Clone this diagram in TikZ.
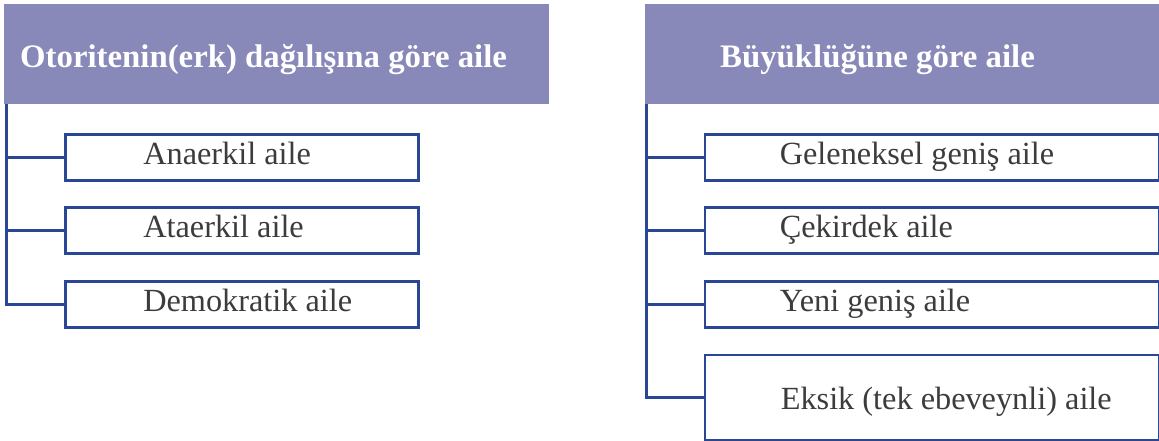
\documentclass[tikz,border=0pt]{standalone}
\usepackage{fontspec}
\setmainfont{Liberation Serif}
\definecolor{hdrfill}{RGB}{136,136,185}
\definecolor{linecol}{RGB}{42,70,150}
\definecolor{txtcol}{RGB}{60,60,60}
\tikzset{
  hdr/.style={fill=hdrfill, draw=none, anchor=north west, inner sep=0pt, text=white,
              font=\fontsize{32.8}{36}\selectfont\bfseries, text height=33pt, text depth=7pt},
  itembox/.style={draw=linecol, line width=2.6pt, fill=white, anchor=north west, inner sep=0pt,
              text=txtcol, font=\fontsize{32.3}{36}\selectfont, text height=21pt, text depth=7pt},
  conn/.style={draw=linecol, line width=2.6pt}
}
\begin{document}
\begin{tikzpicture}[x=1pt,y=-1pt]
\useasboundingbox (0,0) rectangle (1159,440);
% headers
\node[hdr, minimum width=545pt, minimum height=100pt] (h1) at (4,4)
  {\makebox[545pt][l]{\hspace{16pt}Otoritenin(erk) dağılışına göre aile}};
\node[hdr, minimum width=515pt, minimum height=100pt] (h2) at (644.5,4)
  {\makebox[515pt][l]{\hspace{75.5pt}Büyüklüğüne göre aile}};
% left items
\node[itembox, minimum width=353pt, minimum height=46pt] (a1) at (64,133)
  {\makebox[353pt][l]{\hspace{78pt}Anaerkil aile}};
\node[itembox, minimum width=353pt, minimum height=46pt] (a2) at (64,206)
  {\makebox[353pt][l]{\hspace{78pt}Ataerkil aile}};
\node[itembox, minimum width=353pt, minimum height=46pt] (a3) at (64,280)
  {\makebox[353pt][l]{\hspace{78pt}Demokratik aile}};
% right items
\node[itembox, minimum width=454pt, minimum height=46pt] (b1) at (703.5,133)
  {\makebox[454pt][l]{\hspace{75pt}Geleneksel geniş aile}};
\node[itembox, minimum width=454pt, minimum height=46pt] (b2) at (703.5,206)
  {\makebox[454pt][l]{\hspace{75pt}Çekirdek aile}};
\node[itembox, minimum width=454pt, minimum height=46pt] (b3) at (703.5,280)
  {\makebox[454pt][l]{\hspace{75pt}Yeni geniş aile}};
\node[itembox, minimum width=454pt, minimum height=85pt, text height=31pt] (b4) at (703.5,353.5)
  {\makebox[454pt][l]{\hspace{76pt}Eksik (tek ebeveynli) aile}};
% connectors
\coordinate (t1) at ([xshift=2.5pt]h1.south west);
\coordinate (t2) at ([xshift=2pt]h2.south west);
\draw[conn] (t1) |- (a3.west);
\draw[conn] (t1 |- a1.west) -- (a1.west);
\draw[conn] (t1 |- a2.west) -- (a2.west);
\draw[conn] (t2) |- (b4.west);
\draw[conn] (t2 |- b1.west) -- (b1.west);
\draw[conn] (t2 |- b2.west) -- (b2.west);
\draw[conn] (t2 |- b3.west) -- (b3.west);
\end{tikzpicture}
\end{document}
